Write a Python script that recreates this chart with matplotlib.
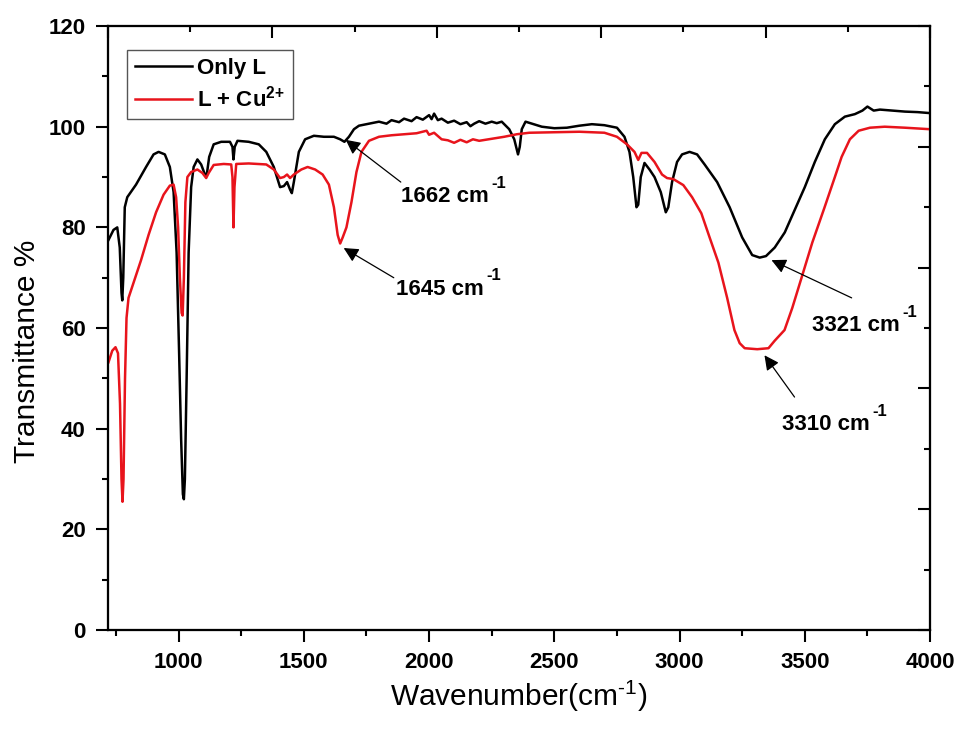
import numpy as np
import matplotlib
matplotlib.use('Agg')
import matplotlib.pyplot as plt
from matplotlib.ticker import MultipleLocator

plt.rcParams['font.family'] = ['Liberation Sans', 'DejaVu Sans']
plt.rcParams['mathtext.fontset'] = 'custom'
plt.rcParams['mathtext.rm'] = 'Liberation Sans'
plt.rcParams['mathtext.it'] = 'Liberation Sans:italic'
plt.rcParams['mathtext.bf'] = 'Liberation Sans:bold'

# Only L (black)
wn_L = [720, 740, 755, 765, 772, 775, 779, 785, 795, 830, 870, 900, 920, 945, 965, 980,
        992, 1002, 1010, 1017, 1021, 1025, 1032, 1040, 1050, 1060, 1075, 1090, 1105, 1112,
        1122, 1140, 1170, 1205, 1215, 1219, 1224, 1235, 1280, 1320, 1350, 1380, 1405, 1420,
        1433, 1445, 1452, 1460, 1480, 1505, 1540, 1580, 1620, 1645, 1662, 1680, 1700, 1720,
        1760, 1800, 1830, 1850, 1880, 1900, 1930, 1950, 1975, 2000, 2010, 2020, 2035, 2050,
        2075, 2100, 2125, 2150, 2165, 2180, 2200, 2225, 2250, 2270, 2290, 2320, 2340, 2355,
        2362, 2370, 2385, 2450, 2500, 2550, 2600, 2650, 2700, 2750,
        2780, 2800, 2815, 2828, 2835, 2845, 2860, 2880, 2900, 2925, 2945, 2955, 2970, 2990,
        3010, 3040, 3070, 3100, 3150, 3200, 3250, 3290, 3320, 3345, 3380, 3420, 3460, 3500,
        3540, 3580, 3620, 3660, 3700, 3730, 3750, 3775, 3800, 3850, 3900, 3950, 4000]
T_L = [77.5, 79.5, 80, 76, 67, 65.5, 70, 84, 86, 88.5, 92, 94.5, 95, 94.5, 92, 87,
       75, 55, 38, 27, 26, 30, 50, 75, 88, 92, 93.5, 92.5, 90.5, 90.3,
       94, 96.5, 97, 97, 96, 93.5, 96, 97.2, 97, 96.5, 95, 92, 88, 88.2,
       89, 87.5, 86.8, 89, 95, 97.5, 98.2, 98, 98, 97.5, 97, 98, 99.5, 100.2,
       100.6, 101, 100.6, 101.3, 100.9, 101.6, 101.1, 101.9, 101.4, 102.3, 101.5, 102.6, 101.3, 101.6,
       100.8, 101.2, 100.5, 100.9, 100.1, 100.6, 101.1, 100.6, 101, 100.7, 101, 99.5, 97.5, 94.5,
       96, 99.5, 101, 100, 99.7, 99.8, 100.2, 100.5, 100.3, 99.8,
       98, 95, 90, 84, 84.5, 90, 92.8, 91.5, 90, 87, 83, 84, 89, 93,
       94.5, 95, 94.5, 92.5, 89, 84, 78, 74.5, 74, 74.3, 76, 79, 83.5, 88,
       93, 97.5, 100.5, 102, 102.5, 103.2, 104, 103.2, 103.4, 103.2, 103, 102.9, 102.7]

# L + Cu2+ (red)
wn_Cu = [720, 735, 748, 758, 766, 772, 776, 780, 786, 792, 800, 820, 850, 880, 910, 940,
         965, 980, 990, 998, 1005, 1012, 1016, 1021, 1027, 1035, 1050, 1075, 1095, 1110,
         1120, 1140, 1180, 1210, 1215, 1219, 1223, 1230, 1280, 1350, 1380, 1405, 1420, 1433,
         1445, 1460, 1490, 1515, 1545, 1575, 1600, 1620, 1635, 1645, 1655, 1670, 1690, 1710,
         1730, 1760, 1800, 1850, 1900, 1950, 1990, 2000, 2020, 2050, 2075, 2100, 2125, 2150,
         2175, 2200, 2250, 2300, 2350, 2400, 2500, 2600, 2700, 2750, 2790, 2820, 2835, 2848,
         2870, 2900, 2930, 2950, 2975, 3015, 3050, 3087, 3120, 3155, 3190, 3219, 3240, 3260,
         3310, 3355, 3380, 3419, 3450, 3487, 3530, 3579, 3620, 3647, 3680, 3715, 3760, 3819,
         3900, 4000]
T_Cu = [53.2, 55.5, 56.2, 55, 45, 30, 25.5, 30, 50, 62, 66, 69, 73.5, 78.5, 83, 86.5,
        88.3, 88.5, 86, 80, 70, 63, 62.5, 70, 85, 90, 91, 91.5, 90.8, 89.8,
        90.8, 92.4, 92.6, 92.5, 90, 80, 88, 92.6, 92.7, 92.5, 91.5, 89.8, 90, 90.5,
        89.8, 90.5, 91.5, 92, 91.5, 90.5, 88.5, 84, 78.5, 76.8, 78, 80, 85, 91,
        95, 97.2, 98, 98.3, 98.5, 98.7, 99.2, 98.4, 98.8, 97.5, 97.3, 96.8, 97.4, 96.9,
        97.5, 97.2, 97.6, 98, 98.5, 98.8, 98.9, 99, 98.8, 98, 96.5, 95, 93.4, 94.8,
        94.8, 93, 90.5, 89.8, 89.6, 88.4, 86, 82.8, 78, 73, 66, 59.6, 57, 56,
        55.8, 56, 57.5, 59.6, 64, 70, 77, 84, 90, 94, 97.5, 99.2, 99.8, 100,
        99.8, 99.5]

# peak labels: text, arrow head (x, y), arrow tail (x, y), text position (x, y)
peak_labels = ['1662 cm', '1645 cm', '3321 cm', '3310 cm']
peak_heads = [(1667, 97.4), (1659, 75.9), (3367, 73.5), (3339, 54.6)]
peak_tails = [(1887, 89), (1859, 70), (3687, 66), (3459, 46.3)]
peak_text = [(1887, 85), (1867, 66.6), (3527, 59.4), (3407, 39.7)]

fig = plt.figure(figsize=(9.59, 7.31), dpi=100)
ax = fig.add_axes([0.1126, 0.138, 0.8572, 0.8264])

ax.plot(wn_L, T_L, color='black', lw=1.8, label='Only L')
ax.plot(wn_Cu, T_Cu, color='#e8141c', lw=1.8, label=r'L + Cu$^{\mathbf{2{+}}}$')

ax.set_xlim(718, 4000)
ax.set_ylim(0, 120)
ax.xaxis.set_major_locator(MultipleLocator(500))
ax.xaxis.set_minor_locator(MultipleLocator(250))
ax.yaxis.set_major_locator(MultipleLocator(20))
ax.yaxis.set_minor_locator(MultipleLocator(10))
ax.set_xticks(np.arange(1000, 4001, 500))
ax.tick_params(which='major', direction='out', length=8.6, width=1.5, labelsize=16, pad=7.5)
ax.tick_params(which='minor', direction='out', length=4.5, width=1.5)
for lab in ax.get_xticklabels() + ax.get_yticklabels():
    lab.set_fontweight('bold')
for sp in ax.spines.values():
    sp.set_linewidth(1.5)

ax.set_xlabel('Wavenumber(cm$^{\u2010 1}$)', fontsize=21.5, labelpad=4)
ax.set_ylabel('Transmittance %', fontsize=21.5)
ax.yaxis.set_label_coords(-0.082, 0.462)

# unlabeled ticks on top and right
ax_top = ax.twiny()
ax_top.set_xlim(0, 1)
ax_top.xaxis.set_major_locator(MultipleLocator(0.2))
ax_top.xaxis.set_minor_locator(MultipleLocator(0.1))
ax_top.tick_params(which='major', direction='in', length=8.6, width=1.5, labeltop=False)
ax_top.tick_params(which='minor', direction='in', length=4.5, width=1.5)
ax_right = ax.twinx()
ax_right.set_ylim(0, 1)
ax_right.yaxis.set_major_locator(MultipleLocator(0.2))
ax_right.yaxis.set_minor_locator(MultipleLocator(0.1))
ax_right.tick_params(which='major', direction='in', length=8.6, width=1.5, labelright=False)
ax_right.tick_params(which='minor', direction='in', length=4.5, width=1.5)
for a in (ax_top, ax_right):
    for sp in a.spines.values():
        sp.set_linewidth(1.5)

for lbl, head, tail, pos in zip(peak_labels, peak_heads, peak_tails, peak_text):
    ax.annotate('', xy=head, xytext=tail,
                arrowprops=dict(arrowstyle='-|>', color='black', lw=0.9,
                                mutation_scale=22, shrinkA=0, shrinkB=0))
    t = ax.text(pos[0], pos[1], lbl, fontsize=16, fontweight='bold',
                ha='left', va='baseline')
    ax.annotate('-1', xy=(1, 1), xycoords=t, xytext=(2, 7.5), textcoords='offset points',
                fontsize=12, fontweight='bold', ha='left', va='top')

leg = ax.legend(loc='upper left', bbox_to_anchor=(0.023, 0.96), borderaxespad=0,
                fancybox=False, edgecolor='#555555', framealpha=1,
                prop={'size': 16, 'weight': 'bold'}, handlelength=2.6,
                handletextpad=0.2, labelspacing=0.3, borderpad=0.35)
leg.get_frame().set_linewidth(1.0)
ax.set_zorder(3)
ax.patch.set_visible(False)

fig.savefig('out.png', dpi=100)
